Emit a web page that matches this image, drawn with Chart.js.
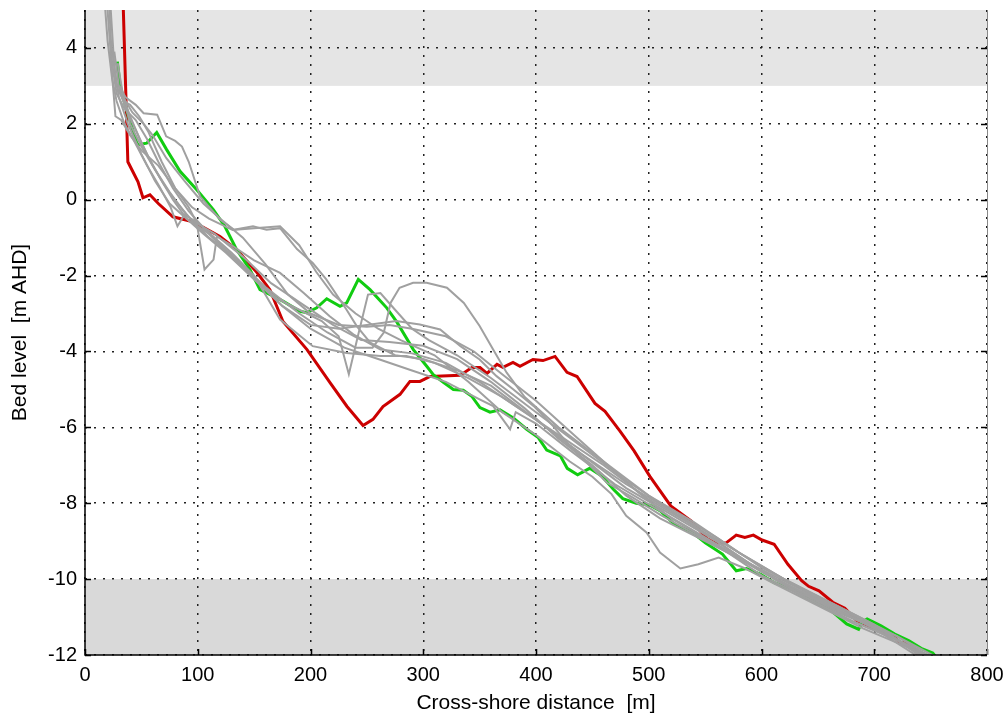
<!DOCTYPE html>
<html>
<head>
<meta charset="utf-8">
<script src="https://cdn.jsdelivr.net/npm/chart.js@4"></script>
<style>
  html, body { margin: 0; padding: 0; background: #fff; }
  #wrap { width: 1007px; height: 716px; }
</style>
</head>
<body>
<div id="wrap"><canvas id="myChart" width="1007" height="716"></canvas></div>
<script>
// axis ticks
const xTicks = [0, 100, 200, 300, 400, 500, 600, 700, 800];
const yTicks = [-12, -10, -8, -6, -4, -2, 0, 2, 4];
// shaded depth bands [from, to] in m AHD
const bandTop = [3, 5];
const bandBottom = [-12, -10];

// grey survey profiles [distance m, bed level m AHD]
const profile1 = [[17,5.4],[20,4.2],[24,3.2],[28,2.6],[35,2.0],[43,1.58],[55,0.9],[66,0.35],[76,-0.2],[82,-0.7],[88,-0.4],[100,-0.6],[115,-1.0],[130,-1.4],[150,-2.0],[173,-3.16],[202,-3.86],[232,-4.04],[262,-4.12],[285,-4.12],[310,-4.3],[340,-4.7],[370,-5.2],[400,-5.8],[440,-6.7],[480,-7.5],[520,-8.2],[560,-8.9],[600,-9.7],[640,-10.3],[680,-10.9],[720,-11.5],[752,-12.1]];
const profile2 = [[19,5.4],[22,4.2],[24,3.3],[27,2.2],[32,2.1],[40,1.7],[50,1.3],[65,0.9],[80,0.3],[92,-0.2],[99,-0.6],[106,-1.84],[114,-1.58],[117,-0.97],[130,-1.2],[150,-1.6],[173,-1.93],[194,-2.46],[217,-3.07],[238,-3.55],[262,-3.95],[290,-4.05],[320,-4.3],[350,-4.8],[380,-5.4],[420,-6.2],[460,-7.0],[500,-7.9],[540,-8.6],[580,-9.3],[620,-10.0],[660,-10.6],[700,-11.2],[745,-12.1]];
const profile3 = [[26,3.9],[30,3.0],[36,2.7],[45,2.5],[52,2.28],[64,2.24],[72,1.67],[80,1.55],[86,1.4],[92,1.0],[102,0.09],[120,-0.53],[132,-0.79],[149,-0.7],[161,-0.79],[173,-0.75],[188,-1.3],[202,-1.67],[214,-2.1],[232,-2.9],[241,-3.33],[253,-3.77],[275,-4.1],[300,-4.2],[330,-4.5],[360,-4.9],[400,-5.8],[440,-6.7],[480,-7.6],[520,-8.3],[560,-9.0],[600,-9.8],[640,-10.4],[680,-11.0],[720,-11.5],[758,-12.1]];
const profile4 = [[21,5.4],[24,3.6],[28,2.8],[35,2.4],[45,2.1],[55,1.6],[65,1.0],[78,0.3],[92,-0.3],[110,-0.9],[130,-1.5],[150,-2.1],[170,-2.6],[190,-2.9],[210,-3.2],[225,-3.6],[234,-4.6],[242,-3.6],[251,-2.5],[262,-2.46],[275,-2.9],[290,-3.4],[305,-3.7],[330,-4.1],[360,-4.7],[400,-5.6],[440,-6.5],[480,-7.4],[520,-8.2],[560,-9.0],[600,-9.8],[640,-10.5],[680,-11.1],[720,-11.6],[748,-12.1]];
const profile5 = [[22,5.4],[26,3.5],[30,2.7],[38,2.0],[50,1.2],[62,0.5],[75,-0.1],[90,-0.5],[110,-0.9],[135,-1.6],[160,-2.3],[190,-3.0],[215,-3.5],[240,-3.9],[255,-3.9],[265,-3.5],[271,-2.72],[279,-2.32],[291,-2.19],[303,-2.19],[321,-2.32],[336,-2.72],[350,-3.33],[362,-3.95],[374,-4.56],[390,-5.2],[420,-6.0],[460,-6.9],[500,-7.8],[540,-8.5],[580,-9.3],[620,-10.0],[660,-10.7],[700,-11.3],[742,-12.1]];
const profile6 = [[24,4.0],[28,3.0],[34,2.6],[40,2.5],[48,2.2],[56,1.8],[68,1.0],[80,0.3],[95,-0.2],[110,-0.5],[131,-0.8],[150,-0.75],[173,-0.7],[190,-1.2],[205,-1.9],[220,-2.5],[240,-3.0],[260,-3.4],[280,-3.7],[310,-4.1],[340,-4.8],[370,-5.6],[400,-6.2],[430,-6.9],[450,-7.3],[467,-7.76],[480,-8.33],[498,-8.77],[510,-9.3],[528,-9.72],[544,-9.61],[562,-9.43],[584,-9.7],[610,-10.1],[650,-10.7],[690,-11.3],[730,-11.8],[748,-12.1]];
const profile7 = [[30,3.0],[36,2.4],[44,1.9],[55,1.2],[66,0.6],[78,0.0],[90,-0.5],[105,-0.9],[125,-1.4],[150,-2.1],[175,-2.8],[200,-3.4],[230,-3.9],[260,-4.2],[290,-4.5],[320,-4.8],[350,-5.26],[362,-5.44],[377,-6.05],[382,-5.6],[400,-5.9],[430,-6.6],[470,-7.5],[510,-8.2],[550,-8.9],[590,-9.6],[630,-10.2],[670,-10.8],[710,-11.4],[745,-12.1]];
const profile8 = [[32,3.0],[40,2.0],[50,1.4],[62,0.8],[75,0.2],[90,-0.4],[110,-1.0],[135,-1.6],[155,-2.2],[175,-2.8],[200,-3.3],[225,-3.4],[250,-3.3],[276,-3.2],[297,-3.29],[315,-3.42],[333,-3.86],[350,-4.21],[365,-4.65],[380,-5.0],[398,-5.44],[415,-5.96],[430,-6.49],[445,-6.93],[463,-7.46],[486,-7.85],[510,-8.3],[540,-8.8],[570,-9.3],[600,-9.8],[640,-10.4],[680,-11.0],[720,-11.6],[755,-12.1]];
const profile9 = [[29,3.6],[34,2.7],[42,2.3],[52,2.0],[60,1.7],[72,1.1],[88,0.5],[105,-0.1],[120,-0.5],[140,-1.0],[160,-1.7],[180,-2.5],[200,-3.0],[225,-3.3],[250,-3.35],[270,-3.3],[290,-3.4],[320,-3.6],[345,-4.0],[370,-4.6],[400,-5.3],[430,-6.1],[460,-6.9],[490,-7.7],[520,-8.4],[560,-9.1],[600,-9.9],[640,-10.5],[680,-11.1],[720,-11.6],[752,-12.1]];
const profile10 = [[33,2.8],[40,2.2],[50,1.5],[60,0.9],[70,0.4],[82,-0.1],[95,-0.55],[115,-0.9],[140,-1.5],[165,-2.2],[195,-2.8],[220,-3.3],[245,-3.7],[270,-3.75],[300,-3.85],[330,-4.2],[360,-4.8],[390,-5.5],[420,-6.3],[450,-7.0],[480,-7.8],[510,-8.4],[550,-9.0],[590,-9.6],[630,-10.3],[670,-10.9],[710,-11.4],[750,-12.1]];
const greyProfiles = [profile1, profile2, profile3, profile4, profile5, profile6, profile7, profile8, profile9, profile10];

// highlighted profiles
const greenProfile = [[28.7,3.64],[31.6,2.89],[37,2.37],[41.4,1.93],[46.4,1.45],[54.7,1.49],[63.6,1.77],[72.4,1.32],[84.3,0.75],[99.1,0.26],[113.8,-0.26],[124,-0.7],[134.5,-1.32],[146.3,-1.84],[155.2,-2.37],[167,-2.54],[175.9,-2.68],[190.7,-2.94],[196.6,-2.98],[205.5,-2.85],[214.4,-2.61],[226.2,-2.81],[232.1,-2.72],[242.4,-2.1],[252.8,-2.37],[267.6,-2.85],[276.5,-3.22],[291.2,-3.95],[303.1,-4.39],[308.9,-4.61],[317.8,-4.81],[326.7,-5.0],[335.5,-5.02],[343,-5.18],[350.3,-5.48],[359.2,-5.6],[368.1,-5.54],[379.9,-5.75],[391.7,-6.05],[402,-6.27],[409.5,-6.6],[421.6,-6.75],[427.7,-7.08],[436.9,-7.25],[447.6,-7.08],[458.3,-7.28],[468.6,-7.63],[477,-7.88],[488.9,-8.0],[501.1,-8.05],[510.3,-8.2],[522.5,-8.55],[537.8,-8.75],[550.1,-9.04],[565.3,-9.34],[577.6,-9.78],[586.7,-9.72],[598.9,-9.87],[611.2,-10.09],[626.5,-10.26],[644.9,-10.57],[660.2,-10.79],[675.5,-11.18],[686.1,-11.32],[689.2,-11.14],[693.7,-11.05],[706,-11.23],[718.2,-11.45],[730.5,-11.62],[742.7,-11.84],[751.9,-11.95],[756,-12.1]];
const redProfile = [[33,5.6],[34,5.0],[36,3.0],[38,1.0],[47,0.47],[51.4,0.05],[57.6,0.13],[65,-0.1],[78,-0.45],[95.8,-0.58],[119.7,-0.97],[134.8,-1.32],[152.5,-1.92],[164,-2.37],[175.6,-3.21],[196.9,-3.95],[217.3,-4.82],[232.4,-5.45],[246.6,-5.95],[255.4,-5.79],[264.3,-5.45],[279.4,-5.13],[288.2,-4.79],[297.1,-4.79],[306,-4.66],[332.6,-4.63],[343.2,-4.42],[350.3,-4.42],[356.5,-4.58],[365.4,-4.34],[370.7,-4.42],[379.6,-4.29],[385.8,-4.39],[397.3,-4.21],[406.2,-4.24],[416.9,-4.13],[427.5,-4.55],[436.4,-4.66],[452.3,-5.37],[461.2,-5.58],[474.5,-6.1],[487,-6.62],[501,-7.29],[519.5,-8.07],[537.8,-8.47],[551.6,-8.93],[559.2,-9.05],[568.4,-9.05],[577.6,-8.84],[585.2,-8.9],[592.8,-8.84],[600.5,-8.97],[611.2,-9.08],[623.4,-9.61],[635.6,-10.04],[641.8,-10.19],[651,-10.31],[663.2,-10.61],[673.9,-10.77],[684.6,-11.1],[699.9,-11.3],[715.2,-11.45],[722.8,-11.67],[730.5,-11.67],[738.1,-11.95],[741,-12.1]];

const toPoints = (arr) => arr.map(p => ({ x: p[0], y: p[1] }));

const datasets = greyProfiles.map(p => ({
    data: toPoints(p),
    borderColor: "#a0a0a0",
    borderWidth: 2
}));
datasets.push({ data: toPoints(greenProfile), borderColor: "#11cc11", borderWidth: 3 });
datasets.push({ data: toPoints(redProfile), borderColor: "#cc0000", borderWidth: 3 });

// background, shaded bands, axis frame and inner tick marks
const framePlugin = {
    id: "frame",
    beforeDraw(chart) {
        const c = chart.ctx, a = chart.chartArea, y = chart.scales.y;
        c.save();
        c.fillStyle = "#fff";
        c.fillRect(0, 0, chart.width, chart.height);
        c.fillStyle = "#e5e5e5";
        c.fillRect(a.left, y.getPixelForValue(bandTop[1]), a.right - a.left,
            y.getPixelForValue(bandTop[0]) - y.getPixelForValue(bandTop[1]));
        c.fillStyle = "#d9d9d9";
        c.fillRect(a.left, y.getPixelForValue(bandBottom[1]), a.right - a.left,
            y.getPixelForValue(bandBottom[0]) - y.getPixelForValue(bandBottom[1]));
        c.restore();
    },
    afterDraw(chart) {
        const c = chart.ctx, a = chart.chartArea, x = chart.scales.x, y = chart.scales.y;
        c.save();
        c.strokeStyle = "#000";
        c.lineWidth = 1.5;
        c.beginPath();
        xTicks.forEach(v => {
            const px = Math.round(x.getPixelForValue(v)) + 0.5;
            c.moveTo(px, a.bottom); c.lineTo(px, a.bottom - 6);
        });
        yTicks.forEach(v => {
            const py = Math.round(y.getPixelForValue(v)) + 0.5;
            c.moveTo(a.left, py); c.lineTo(a.left + 6, py);
            c.moveTo(a.right, py); c.lineTo(a.right - 6, py);
        });
        c.stroke();
        c.beginPath();
        c.moveTo(a.left, a.top); c.lineTo(a.left, a.bottom); c.lineTo(a.right, a.bottom);
        c.stroke();
        c.strokeStyle = "#888";
        c.lineWidth = 1;
        c.beginPath();
        c.moveTo(a.right + 0.5, a.top); c.lineTo(a.right + 0.5, a.bottom);
        c.stroke();
        c.restore();
    }
};

const tickFont = { family: "'Liberation Sans', Arial, sans-serif", size: 20 };
const titleFont = { family: "'Liberation Sans', Arial, sans-serif", size: 21 };

new Chart(document.getElementById("myChart"), {
    type: "line",
    data: { datasets: datasets },
    options: {
        responsive: false,
        animation: false,
        elements: { point: { radius: 0 }, line: { tension: 0 } },
        layout: { padding: { left: 0, right: 0, top: 10, bottom: 0 } },
        plugins: { legend: { display: false }, tooltip: { enabled: false } },
        scales: {
            x: {
                type: "linear",
                min: 0, max: 800,
                afterBuildTicks: (s) => { s.ticks = xTicks.map(v => ({ value: v })); },
                afterFit: (s) => { s.height = 61; s.paddingRight = 20; },
                grid: { color: "#222", lineWidth: 1.5, drawTicks: false },
                border: { display: false, dash: [2, 7] },
                ticks: { color: "#000", font: tickFont, padding: 8, maxRotation: 0 },
                title: { display: true, text: "Cross-shore distance  [m]", color: "#000", font: titleFont, padding: { top: 0, bottom: 0 } }
            },
            y: {
                type: "linear",
                min: -12, max: 5,
                afterBuildTicks: (s) => { s.ticks = yTicks.map(v => ({ value: v })); },
                afterFit: (s) => { s.width = 85; s.paddingTop = 0; s.paddingBottom = 0; },
                grid: { color: "#222", lineWidth: 1.5, drawTicks: false },
                border: { display: false, dash: [2, 7] },
                ticks: { color: "#000", font: tickFont, padding: 8 },
                title: { display: true, text: "Bed level  [m AHD]", color: "#000", font: titleFont, padding: { top: 8, bottom: 4 } }
            }
        }
    },
    plugins: [framePlugin]
});
</script>
</body>
</html>
